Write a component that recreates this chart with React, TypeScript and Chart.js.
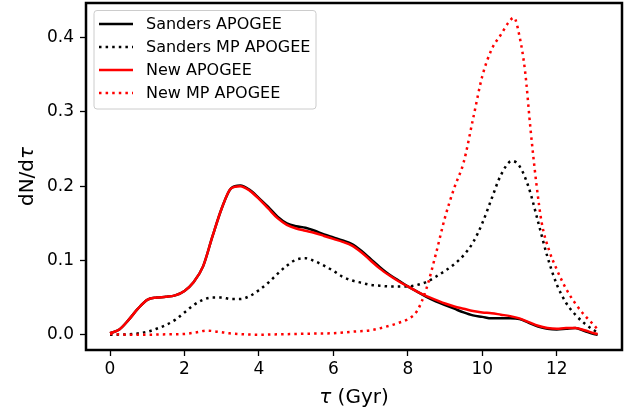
import React, { useEffect, useRef } from "react";
import { Chart, registerables } from "chart.js";

Chart.register(...registerables);

// ---- data ----
const tauSolid = [0, 0.25, 0.5, 0.75, 1, 1.25, 1.5, 1.75, 2, 2.25, 2.5, 2.75, 3, 3.25, 3.5, 3.75, 4, 4.25, 4.5, 4.75, 5, 5.25, 5.5, 5.75, 6, 6.25, 6.5, 6.75, 7, 7.25, 7.5, 7.75, 8, 8.25, 8.5, 8.75, 9, 9.25, 9.5, 9.75, 10, 10.25, 10.5, 10.75, 11, 11.25, 11.5, 11.75, 12, 12.25, 12.5, 12.75, 13, 13.1];
const sandersApogee = [0.002, 0.007, 0.02, 0.035, 0.047, 0.05, 0.051, 0.053, 0.059, 0.071, 0.092, 0.132, 0.17, 0.197, 0.201, 0.195, 0.184, 0.172, 0.159, 0.15, 0.146, 0.144, 0.14, 0.135, 0.131, 0.127, 0.122, 0.113, 0.102, 0.091, 0.081, 0.073, 0.065, 0.058, 0.051, 0.045, 0.04, 0.035, 0.03, 0.026, 0.024, 0.022, 0.022, 0.022, 0.021, 0.016, 0.011, 0.008, 0.007, 0.008, 0.009, 0.005, 0.001, 0.0];
const newApogee = [0.002, 0.007, 0.02, 0.035, 0.047, 0.05, 0.051, 0.053, 0.059, 0.071, 0.092, 0.132, 0.17, 0.197, 0.2, 0.194, 0.183, 0.17, 0.157, 0.148, 0.143, 0.14, 0.137, 0.133, 0.129, 0.125, 0.12, 0.111, 0.1, 0.089, 0.08, 0.072, 0.065, 0.058, 0.052, 0.047, 0.042, 0.038, 0.035, 0.032, 0.03, 0.029, 0.027, 0.025, 0.022, 0.017, 0.012, 0.009, 0.008, 0.009, 0.009, 0.006, 0.002, 0.001];

const tauSandersMP = [0, 0.5, 1, 1.25, 1.5, 1.75, 2, 2.25, 2.5, 2.75, 3, 3.25, 3.5, 3.75, 4, 4.25, 4.5, 4.75, 5, 5.25, 5.5, 5.75, 6, 6.25, 6.5, 6.75, 7, 7.25, 7.5, 7.75, 8, 8.25, 8.5, 8.75, 9, 9.25, 9.5, 9.75, 10, 10.25, 10.5, 10.8, 11, 11.25, 11.5, 11.75, 12, 12.25, 12.5, 12.75, 13, 13.1];
const sandersMP = [0.0, 0.0005, 0.004, 0.008, 0.013, 0.02, 0.03, 0.04, 0.047, 0.05, 0.05, 0.048, 0.048, 0.052, 0.06, 0.07, 0.082, 0.093, 0.101, 0.103, 0.099, 0.093, 0.086, 0.078, 0.073, 0.07, 0.067, 0.066, 0.065, 0.065, 0.065, 0.067, 0.071, 0.078, 0.086, 0.095, 0.107, 0.124, 0.15, 0.183, 0.215, 0.234, 0.227, 0.198, 0.152, 0.105, 0.068, 0.043, 0.027, 0.015, 0.006, 0.003];

const tauNewMP = [0, 0.5, 1, 1.5, 2, 2.3, 2.6, 2.9, 3.2, 3.6, 4, 4.5, 5, 5.5, 6, 6.5, 7, 7.5, 7.75, 8, 8.25, 8.5, 8.75, 9, 9.25, 9.5, 9.75, 10, 10.25, 10.5, 10.7, 10.85, 11, 11.15, 11.3, 11.45, 11.6, 11.8, 12, 12.25, 12.5, 12.75, 13, 13.1];
const newMP = [0.001, 0.0, 0.0, 0.0005, 0.001, 0.003, 0.0055, 0.004, 0.002, 0.0005, 0.0, 0.0005, 0.001, 0.0015, 0.002, 0.004, 0.006, 0.012, 0.016, 0.021, 0.032, 0.062, 0.108, 0.158, 0.198, 0.232, 0.29, 0.348, 0.384, 0.404, 0.42, 0.427, 0.402, 0.355, 0.275, 0.205, 0.15, 0.113, 0.088, 0.062, 0.042, 0.026, 0.013, 0.007];

const seriesLabels = ["Sanders APOGEE", "Sanders MP APOGEE", "New APOGEE", "New MP APOGEE"];
const xTicks = [0, 2, 4, 6, 8, 10, 12];
const yTicks = [0, 0.1, 0.2, 0.3, 0.4];

const FONT = "'DejaVu Sans', sans-serif";
const DOT = [2.5, 4.1];

function pts(xs: number[], ys: number[]) {
  return xs.map((x, i) => ({ x, y: ys[i] }));
}

const overlayPlugin = {
  id: "overlay",
  afterDatasetsDraw(chart: any) {
    const { ctx, chartArea } = chart;
    ctx.save();
    // frame
    ctx.strokeStyle = "#000";
    ctx.lineWidth = 2.5;
    ctx.strokeRect(chartArea.left, chartArea.top, chartArea.right - chartArea.left, chartArea.bottom - chartArea.top);

    // axis titles
    ctx.fillStyle = "#000";
    ctx.textBaseline = "alphabetic";
    const fs = 20;
    const nf = `${fs}px ${FONT}`;
    const itf = `oblique ${fs}px ${FONT}`;
    ctx.font = itf;
    const wT = ctx.measureText("τ").width;
    ctx.font = nf;
    const wR = ctx.measureText(" (Gyr)").width;
    const cx = (chartArea.left + chartArea.right) / 2;
    const x0 = cx - (wT + wR) / 2;
    ctx.textAlign = "left";
    ctx.font = itf;
    ctx.fillText("τ", x0, 403);
    ctx.font = nf;
    ctx.fillText(" (Gyr)", x0 + wT, 403);

    // y title: "dN/dτ"
    ctx.save();
    ctx.translate(33, (chartArea.top + chartArea.bottom) / 2);
    ctx.rotate(-Math.PI / 2);
    ctx.font = nf;
    const w1 = ctx.measureText("dN/d").width;
    ctx.font = itf;
    const w2 = ctx.measureText("τ").width;
    const sx = -(w1 + w2) / 2;
    ctx.font = nf;
    ctx.fillText("dN/d", sx, 0);
    ctx.font = itf;
    ctx.fillText("τ", sx + w1, 0);
    ctx.restore();

    // legend
    const lx = 94, ly = 10.5, lw = 222, lh = 98.5, r = 3;
    ctx.beginPath();
    ctx.moveTo(lx + r, ly);
    ctx.lineTo(lx + lw - r, ly);
    ctx.quadraticCurveTo(lx + lw, ly, lx + lw, ly + r);
    ctx.lineTo(lx + lw, ly + lh - r);
    ctx.quadraticCurveTo(lx + lw, ly + lh, lx + lw - r, ly + lh);
    ctx.lineTo(lx + r, ly + lh);
    ctx.quadraticCurveTo(lx, ly + lh, lx, ly + lh - r);
    ctx.lineTo(lx, ly + r);
    ctx.quadraticCurveTo(lx, ly, lx + r, ly);
    ctx.closePath();
    ctx.fillStyle = "rgba(255,255,255,0.8)";
    ctx.fill();
    ctx.strokeStyle = "#cccccc";
    ctx.lineWidth = 1;
    ctx.stroke();

    const legendDs = chart.data.datasets;
    ctx.font = `16px ${FONT}`;
    ctx.textBaseline = "middle";
    ctx.textAlign = "left";
    for (let i = 0; i < legendDs.length; i++) {
      const ds = legendDs[i];
      const yy = 24 + i * 23;
      ctx.beginPath();
      ctx.strokeStyle = ds.borderColor;
      ctx.lineWidth = ds.borderWidth;
      ctx.setLineDash(ds.borderDash || []);
      ctx.moveTo(99, yy);
      ctx.lineTo(133, yy);
      ctx.stroke();
      ctx.setLineDash([]);
      ctx.fillStyle = "#000";
      ctx.fillText(ds.label, 146, yy + 1);
    }
    ctx.restore();
  },
};

export default function App() {
  const ref = useRef<HTMLCanvasElement | null>(null);

  useEffect(() => {
    document.body.style.margin = "0";
    const canvas = ref.current;
    if (!canvas) return;
    const mk = (i: number, xs: number[], ys: number[], color: string, dotted: boolean, order: number) => ({
      label: seriesLabels[i],
      data: pts(xs, ys),
      borderColor: color,
      borderWidth: 2.5,
      borderDash: dotted ? DOT : [],
      showLine: true,
      pointRadius: 0,
      cubicInterpolationMode: "monotone",
      order,
    });
    const chart = new Chart(canvas, {
      type: "scatter",
      data: {
        datasets: [
          mk(0, tauSolid, sandersApogee, "#000000", false, 3),
          mk(1, tauSandersMP, sandersMP, "#000000", true, 2),
          mk(2, tauSolid, newApogee, "#ff0000", false, 1),
          mk(3, tauNewMP, newMP, "#ff0000", true, 0),
        ] as any,
      },
      options: {
        animation: false,
        responsive: true,
        maintainAspectRatio: false,
        devicePixelRatio: 1,
        layout: { padding: { left: 0, top: 3, right: 10, bottom: 0 } },
        plugins: { legend: { display: false }, tooltip: { enabled: false } },
        scales: {
          x: {
            type: "linear",
            min: -0.645,
            max: 13.754,
            afterBuildTicks: (s: any) => {
              s.ticks = xTicks.map((v) => ({ value: v }));
            },
            afterFit: (s: any) => {
              s.height = 61;
              s.paddingLeft = 0;
              s.paddingRight = 0;
            },
            ticks: {
              color: "#000",
              font: { family: FONT, size: 17 },
              padding: 3,
              maxRotation: 0,
              autoSkip: false,
              callback: (v: any) => String(v),
            },
            grid: {
              drawOnChartArea: false,
              drawTicks: true,
              tickLength: 6,
              tickWidth: 1.3,
              tickColor: "#000",
            },
            border: { display: false },
          },
          y: {
            type: "linear",
            min: -0.0206,
            max: 0.4467,
            afterBuildTicks: (s: any) => {
              s.ticks = yTicks.map((v) => ({ value: v }));
            },
            afterFit: (s: any) => {
              s.width = 86;
              s.paddingTop = 0;
              s.paddingBottom = 0;
            },
            ticks: {
              color: "#000",
              font: { family: FONT, size: 17 },
              padding: 6,
              autoSkip: false,
              callback: (v: any) => Number(v).toFixed(1),
            },
            grid: {
              drawOnChartArea: false,
              drawTicks: true,
              tickLength: 6,
              tickWidth: 1.3,
              tickColor: "#000",
            },
            border: { display: false },
          },
        },
      } as any,
      plugins: [overlayPlugin],
    });
    return () => chart.destroy();
  }, []);

  return (
    <div style={{ position: "absolute", left: 0, top: 0, width: 632, height: 411, background: "#fff" }}>
      <canvas ref={ref} />
    </div>
  );
}
